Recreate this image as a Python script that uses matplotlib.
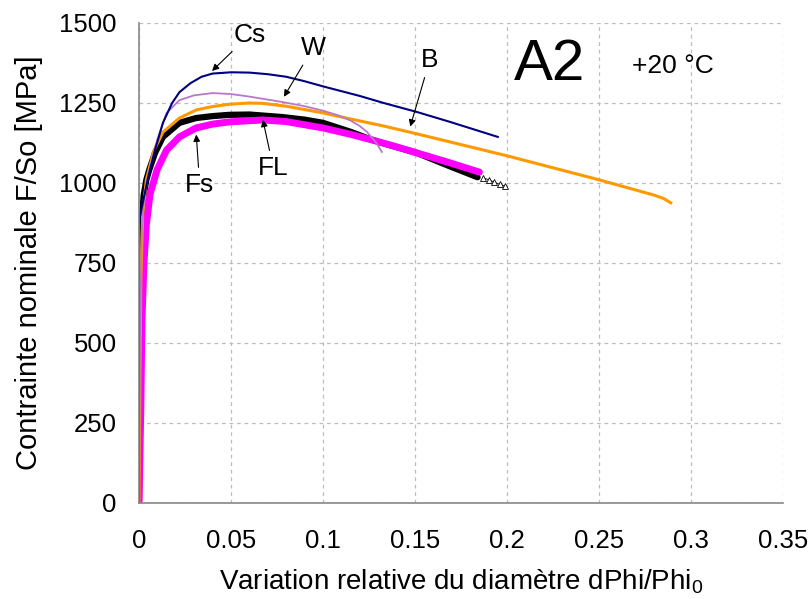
import numpy as np
import matplotlib.pyplot as plt

plt.rcParams['font.family'] = ['Liberation Sans', 'DejaVu Sans']
plt.rcParams['mathtext.fontset'] = 'custom'
plt.rcParams['mathtext.rm'] = 'Liberation Sans'

# curves: relative diameter change vs nominal stress (MPa)
fs_x = [0, 0.001, 0.0016, 0.0027, 0.004, 0.006, 0.0098, 0.015, 0.022, 0.031, 0.04, 0.049, 0.067,
        0.08, 0.1, 0.115, 0.127, 0.14, 0.151, 0.169, 0.185]
fs_y = [0, 300, 570, 750, 870, 965, 1041, 1103, 1144, 1172, 1184, 1191, 1197,
        1192, 1172, 1152, 1134, 1113, 1094, 1063, 1034]

fl_x = [0, 0.0005, 0.0008, 0.0015, 0.0025, 0.004, 0.0055, 0.0087, 0.013, 0.022, 0.031, 0.04, 0.049,
        0.06, 0.078, 0.09, 0.1, 0.115, 0.127, 0.14, 0.151, 0.169, 0.184]
fl_y = [0, 400, 750, 880, 960, 1010, 1040, 1094, 1144, 1188, 1203, 1209, 1213,
        1214, 1206, 1198, 1188, 1160, 1134, 1112, 1094, 1052, 1018]

cs_x = [0, 0.0, 0.0, 0.0016, 0.005, 0.0087, 0.013, 0.018, 0.022, 0.028, 0.034, 0.04, 0.05, 0.06,
        0.07, 0.08, 0.09, 0.1, 0.12, 0.133, 0.151, 0.169, 0.195]
cs_y = [0, 500, 880, 925, 1019, 1103, 1188, 1250, 1284, 1312, 1332, 1342, 1346, 1345,
        1340, 1332, 1318, 1302, 1272, 1250, 1222, 1191, 1144]

w_x = [0, 0.0005, 0.0015, 0.003, 0.006, 0.0098, 0.015, 0.022, 0.03, 0.04, 0.05, 0.06, 0.078, 0.09,
       0.1, 0.108, 0.115, 0.12, 0.124, 0.129, 0.132]
w_y = [0, 500, 850, 969, 1050, 1134, 1219, 1259, 1274, 1281, 1278, 1270, 1253, 1240,
       1226, 1212, 1195, 1178, 1159, 1125, 1097]

b_x = [0, 0.0005, 0.001, 0.002, 0.004, 0.008, 0.013, 0.022, 0.031, 0.04, 0.049, 0.06, 0.067, 0.08,
       0.1, 0.115, 0.133, 0.15, 0.17, 0.2, 0.23, 0.25, 0.27, 0.28, 0.285, 0.289]
b_y = [0, 400, 700, 900, 1010, 1100, 1159, 1203, 1228, 1239, 1246, 1250, 1249, 1240,
       1219, 1200, 1178, 1155, 1127, 1085, 1040, 1010, 978, 962, 952, 938]

tri_x = [0.187, 0.190, 0.193, 0.196, 0.199]
tri_y = [1017, 1010, 1003, 996, 990]

fig = plt.figure(figsize=(8.1, 5.99), dpi=100)
ax = fig.add_axes([139/810, (599-503)/599, (783-139)/810, (503-23)/599])

ax.plot(tri_x, tri_y, color='black', lw=0.6, marker='^', ms=5,
        mfc='white', mec='black', mew=0.6)
ax.plot(fl_x, fl_y, color='black', lw=4.5, solid_capstyle='round')
ax.plot(fs_x, fs_y, color='#ff00ff', lw=5, solid_capstyle='round')
ax.plot(b_x, b_y, color='#ff9900', lw=2.2)
ax.plot(w_x, w_y, color='#b878c8', lw=1.3)
ax.plot(cs_x, cs_y, color='#000080', lw=1.5)

ax.set_xlim(0, 0.35)
ax.set_ylim(0, 1500)
ax.set_xticks(np.arange(0, 0.351, 0.05))
ax.set_xticklabels(['0', '0.05', '0.1', '0.15', '0.2', '0.25', '0.3', '0.35'])
ax.set_yticks(np.arange(0, 1501, 250))
ax.tick_params(labelsize=18.5, direction='in', length=0, colors='black')
ax.tick_params(axis='y', pad=16)
ax.tick_params(axis='x', pad=19)
ax.grid(True, color='#bdbdbd', ls=(0, (3, 3)), lw=0.9)
for s in ['top', 'right']:
    ax.spines[s].set_visible(False)
for s in ['left', 'bottom']:
    ax.spines[s].set_color('#888888')
    ax.spines[s].set_linewidth(1.2)

ax.set_xlabel('Variation relative du diamètre dPhi/Phi$_\\mathregular{0}$', fontsize=20, labelpad=10)
ax.set_ylabel('Contrainte nominale F/So [MPa]', fontsize=21, labelpad=12)

arrow = dict(arrowstyle='-|>', color='black', lw=0.8, mutation_scale=10)
ax.annotate('Cs', xy=(0.0386, 1344), xytext=(0.060, 1463), fontsize=19,
            ha='center', va='center', arrowprops=arrow)
ax.annotate('W', xy=(0.078, 1262), xytext=(0.0946, 1422), fontsize=19,
            ha='center', va='center', arrowprops=arrow)
ax.annotate('B', xy=(0.147, 1168), xytext=(0.158, 1384), fontsize=19,
            ha='center', va='center', arrowprops=arrow)
ax.annotate('FL', xy=(0.067, 1206), xytext=(0.073, 1047), fontsize=19,
            ha='center', va='center', arrowprops=arrow)
ax.annotate('Fs', xy=(0.031, 1160), xytext=(0.033, 994), fontsize=19,
            ha='center', va='center', arrowprops=arrow)

ax.text(0.223, 1369, 'A2', fontsize=42, ha='center', va='center')
ax.text(0.29, 1366, '+20 °C', fontsize=19, ha='center', va='center')

fig.savefig('out.png', dpi=100)
